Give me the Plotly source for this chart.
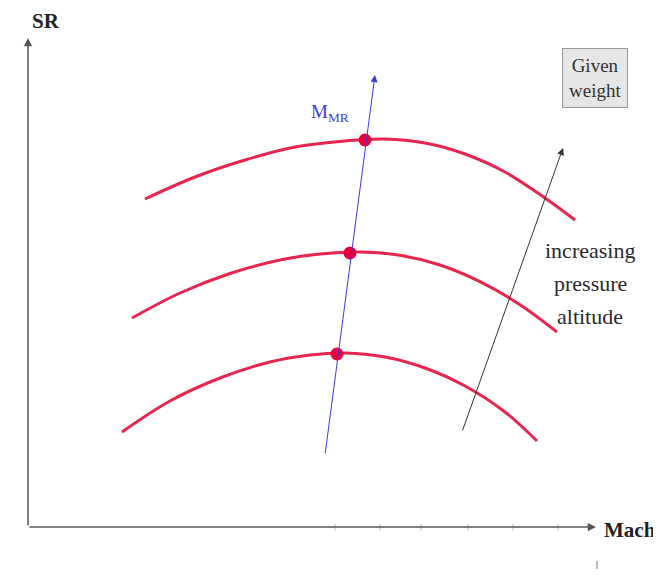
import plotly.graph_objects as go

# Curves of specific range (SR) vs Mach, three pressure altitudes (schematic units)
low_x = [94, 142, 192, 242, 282, 317, 357, 397, 437, 477, 509]
low_y = [95, 126, 149, 165, 172, 174, 170, 159, 141, 115, 86]
mid_x = [104, 152, 202, 252, 292, 332, 372, 412, 452, 492, 529]
mid_y = [209, 234, 253.5, 267, 273, 275, 271.7, 262, 245.3, 222.3, 195]
high_x = [117, 167, 217, 267, 317, 357, 397, 437, 477, 517, 547]
high_y = [328, 350, 367, 380, 386, 388, 384, 373, 355, 329, 307]

# Maximum-range Mach points
mmr_x = [309, 322, 337]
mmr_y = [173, 274, 387]

# M_MR line (start, end) and altitude arrow (start, end)
mmr_line_x = [297, 347]
mmr_line_y = [72, 452]
alt_arrow_x = [434, 535]
alt_arrow_y = [95, 379]

# Axis extents
x_axis_end = 568
y_axis_end = 489
x_minor_ticks = [307, 352, 393, 440, 485, 530]

RED = "#e6264f"
BLUE = "#3b3bdc"
SERIF = "Liberation Serif"

fig = go.Figure()
for xs, ys in [(low_x, low_y), (mid_x, mid_y), (high_x, high_y)]:
    fig.add_trace(go.Scatter(x=xs, y=ys, mode="lines",
                             line=dict(color=RED, width=3, shape="spline", smoothing=1.0),
                             hoverinfo="skip", showlegend=False))

fig.add_trace(go.Scatter(x=x_minor_ticks, y=[0] * len(x_minor_ticks), mode="markers",
                         marker=dict(symbol="line-ns", size=5, line=dict(color="#bbbbbb", width=1)),
                         hoverinfo="skip", showlegend=False))

annotations = []
def arrow(x0, y0, x1, y1, color, width, size=1.0):
    annotations.append(dict(x=x1, y=y1, ax=x0, ay=y0, xref="x", yref="y", axref="x", ayref="y",
                            text="", showarrow=True, arrowhead=2, arrowsize=size,
                            arrowwidth=width, arrowcolor=color, standoff=0, startstandoff=0))

# axes
arrow(0, 0, x_axis_end, 0, "#555555", 1.5, 1.1)
arrow(0, 0, 0, y_axis_end, "#555555", 1.5, 1.1)
# M_MR line
arrow(mmr_line_x[0], mmr_line_y[0], mmr_line_x[1], mmr_line_y[1], BLUE, 1, 1.4)
# increasing altitude arrow
arrow(alt_arrow_x[0], alt_arrow_y[0], alt_arrow_x[1], alt_arrow_y[1], "#333333", 1, 1.4)

fig.add_trace(go.Scatter(x=mmr_x, y=mmr_y, mode="markers",
                         marker=dict(color="#e8003c", size=13),
                         hoverinfo="skip", showlegend=False))

annotations += [
    dict(x=2, y=506, text="<b>SR</b>", showarrow=False, xanchor="left",
         font=dict(family=SERIF, size=21, color="#222222")),
    dict(x=574, y=-3, text="<b>Mach</b>", showarrow=False, xanchor="left",
         font=dict(family=SERIF, size=21, color="#222222")),
    dict(x=302, y=414, text="M<sub>MR</sub>", showarrow=False,
         font=dict(family=SERIF, size=19, color=BLUE)),
    dict(x=567, y=449, text="Given<br>weight", showarrow=False,
         font=dict(family=SERIF, size=19, color="#333333"),
         bgcolor="#e6e6e6", bordercolor="#999999", borderwidth=1, borderpad=6),
    dict(x=562, y=277, text="increasing", showarrow=False,
         font=dict(family=SERIF, size=22, color="#2a2a2a")),
    dict(x=562, y=244, text="pressure", showarrow=False,
         font=dict(family=SERIF, size=22, color="#2a2a2a")),
    dict(x=562, y=211, text="altitude", showarrow=False,
         font=dict(family=SERIF, size=22, color="#2a2a2a")),
]

fig.add_shape(type="line", x0=569, x1=569, y0=-34, y1=-42, line=dict(color="#777777", width=1))

# The page body has an 8px default margin, so the figure is 8px smaller than the window
fig.update_layout(
    width=653, height=567,
    margin=dict(l=0, r=0, t=0, b=0),
    paper_bgcolor="white", plot_bgcolor="white",
    xaxis=dict(range=[-20, 633], visible=False, fixedrange=True),
    yaxis=dict(range=[-48, 519], visible=False, fixedrange=True),
    annotations=annotations,
    showlegend=False,
)

fig.write_html("out.html")
